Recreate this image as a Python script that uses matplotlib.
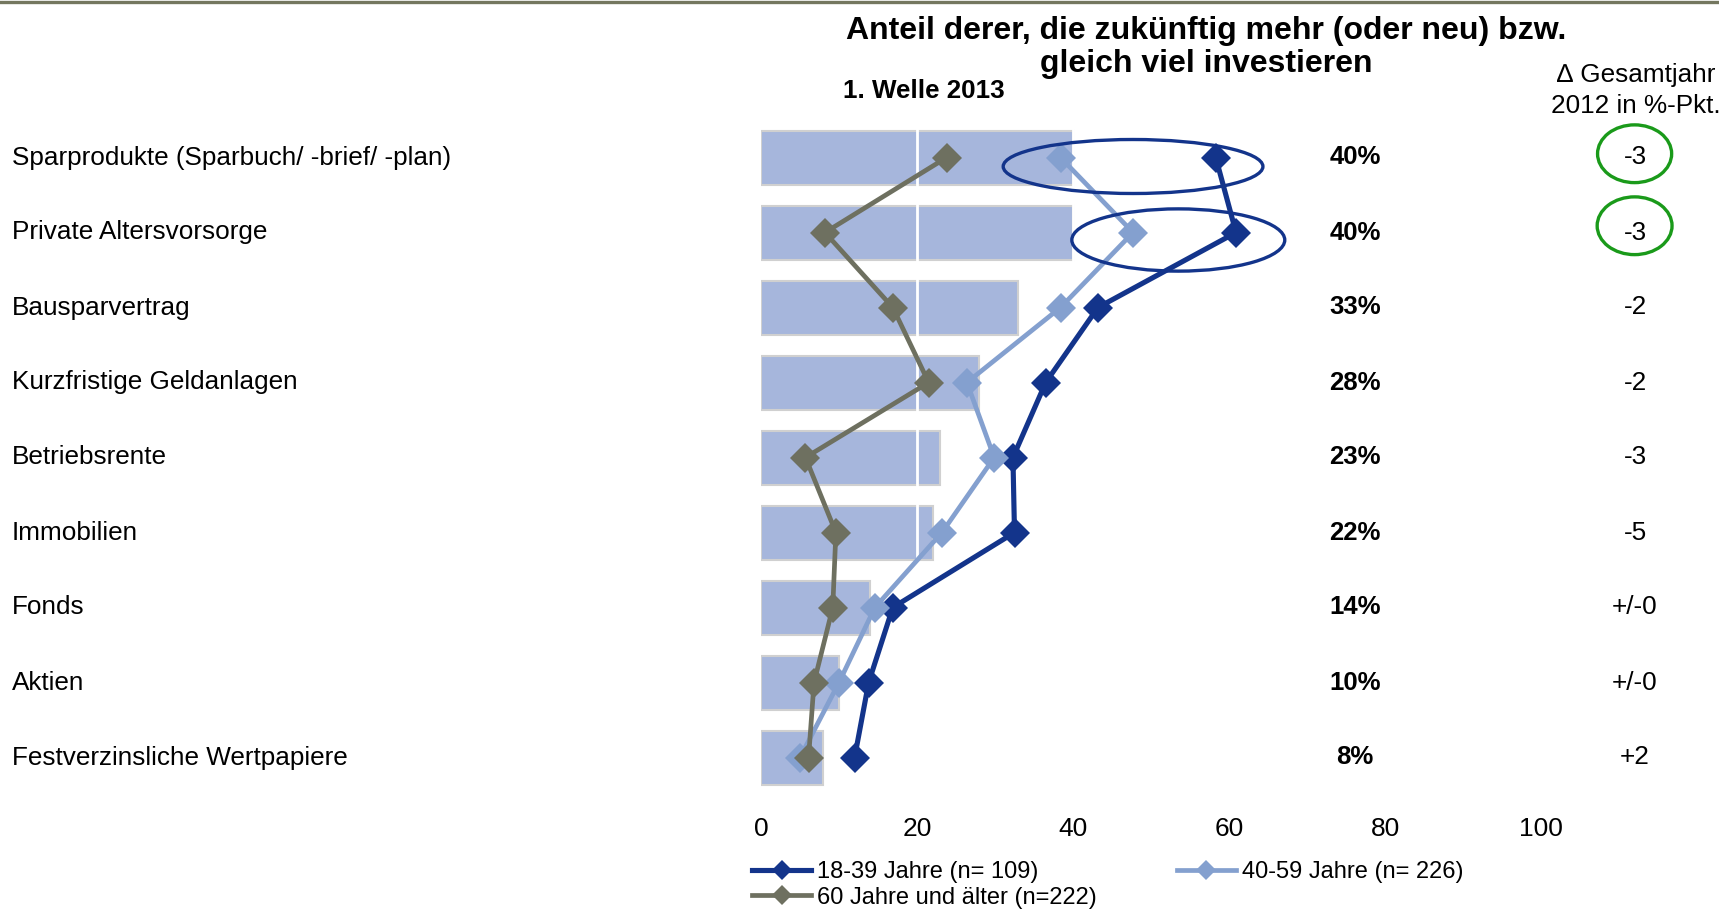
import matplotlib.pyplot as plt
import matplotlib.transforms as mtransforms
from matplotlib.lines import Line2D
from matplotlib.patches import Ellipse
import numpy as np

plt.rcParams['font.family'] = ['Liberation Sans', 'DejaVu Sans']

categories = ['Sparprodukte (Sparbuch/ -brief/ -plan)', 'Private Altersvorsorge',
              'Bausparvertrag', 'Kurzfristige Geldanlagen', 'Betriebsrente',
              'Immobilien', 'Fonds', 'Aktien', 'Festverzinsliche Wertpapiere']
total = [40, 40, 33, 28, 23, 22, 14, 10, 8]
age_18_39 = [58.3, 60.9, 43.2, 36.5, 32.3, 32.5, 16.9, 13.8, 12.0]
age_40_59 = [38.4, 47.7, 38.4, 26.4, 29.9, 23.2, 14.6, 10.0, 5.0]
age_60plus = [23.8, 8.2, 16.9, 21.5, 5.7, 9.6, 9.2, 6.8, 6.1]
delta_2012 = ['-3', '-3', '-2', '-2', '-3', '-5', '+/-0', '+/-0', '+2']
series_labels = ['18-39 Jahre (n= 109)', '40-59 Jahre (n= 226)', '60 Jahre und älter (n=222)']

NAVY = '#13348b'
LIGHT = '#84a0cf'
GREY = '#6e7060'
BAR = '#a6b6dc'

W, H = 1719, 909
fig = plt.figure(figsize=(W / 100, H / 100), dpi=100)
fig.patch.set_facecolor('white')


def fx(px):
    return px / W


def fy(py):
    return 1 - py / H


ax = fig.add_axes([fx(761), fy(795), fx(1541) - fx(761), fy(120) - fy(795)])
y = np.arange(len(categories))

ax.barh(y, total, height=0.72, color=BAR, edgecolor='#d0d0d0', linewidth=1.5, zorder=1)
for gx in [20, 40, 60, 80]:
    ax.axvline(gx, color='white', linewidth=2, zorder=2)

ax.plot(age_18_39, y, color=NAVY, lw=3.7, marker='D', ms=15, mew=0, zorder=3)
ax.plot(age_40_59, y, color=LIGHT, lw=3.4, marker='D', ms=15, mew=0, zorder=4)
ax.plot(age_60plus, y, color=GREY, lw=3.4, marker='D', ms=15, mew=0, zorder=5)

ax.set_xlim(0, 100)
ax.set_ylim(len(categories) - 0.5, -0.5)
ax.set_xticks([0, 20, 40, 60, 80, 100])
ax.set_yticks([])
ax.tick_params(axis='x', length=0, pad=16, labelsize=19)
for s in ax.spines.values():
    s.set_visible(False)

# highlight rings
ax.add_patch(Ellipse((47.7, 0.12), 33.3, 0.72, fill=False, edgecolor=NAVY,
                     lw=2.4, zorder=6, clip_on=False))
ax.add_patch(Ellipse((53.5, 1.10), 27.3, 0.83, fill=False, edgecolor=NAVY,
                     lw=2.4, zorder=6, clip_on=False))
ax.add_patch(Ellipse((112.0, -0.05), 9.5, 0.77, fill=False, edgecolor='#1a9a1a',
                     lw=2.4, zorder=6, clip_on=False))
ax.add_patch(Ellipse((112.0, 0.91), 9.6, 0.77, fill=False, edgecolor='#1a9a1a',
                     lw=2.4, zorder=6, clip_on=False))

row = mtransforms.blended_transform_factory(fig.transFigure, ax.transData)
for i, cat in enumerate(categories):
    fig.text(fx(12), i, cat, transform=row, ha='left', va='center', fontsize=18.8)
    fig.text(fx(1355), i, f'{total[i]}%', transform=row, ha='center', va='center',
             fontsize=18.5, fontweight='bold')
    fig.text(fx(1635), i, delta_2012[i], transform=row, ha='center', va='center',
             fontsize=18.8)

fig.text(fx(1206), fy(31), 'Anteil derer, die zukünftig mehr (oder neu) bzw.',
         ha='center', va='center', fontsize=23, fontweight='bold')
fig.text(fx(1206), fy(64), 'gleich viel investieren',
         ha='center', va='center', fontsize=23, fontweight='bold')
fig.text(fx(843), fy(91), '1. Welle 2013', ha='left', va='center',
         fontsize=18.7, fontweight='bold')
fig.text(fx(1636), fy(75), '\u2206 Gesamtjahr', ha='center', va='center', fontsize=18.8)
fig.text(fx(1636), fy(106), '2012 in %-Pkt.', ha='center', va='center', fontsize=18.8)

fig.add_artist(Line2D([0, 1], [fy(1.5), fy(1.5)], color='#74775f', lw=2.4,
                      transform=fig.transFigure))

handles = [
    Line2D([], [], color=NAVY, lw=3.7, marker='D', ms=10, mew=0),
    Line2D([], [], color=GREY, lw=3.4, marker='D', ms=10, mew=0),
    Line2D([], [], color=LIGHT, lw=3.4, marker='D', ms=10, mew=0),
]
fig.legend(handles, [series_labels[0], series_labels[2], series_labels[1]],
           loc='upper left', bbox_to_anchor=(fx(752), fy(861)), ncol=2,
           frameon=False, fontsize=17, borderpad=0, borderaxespad=0,
           handlelength=2.5, handletextpad=0.25, labelspacing=0.15,
           columnspacing=3.4)

fig.savefig('out.png', dpi=100)
